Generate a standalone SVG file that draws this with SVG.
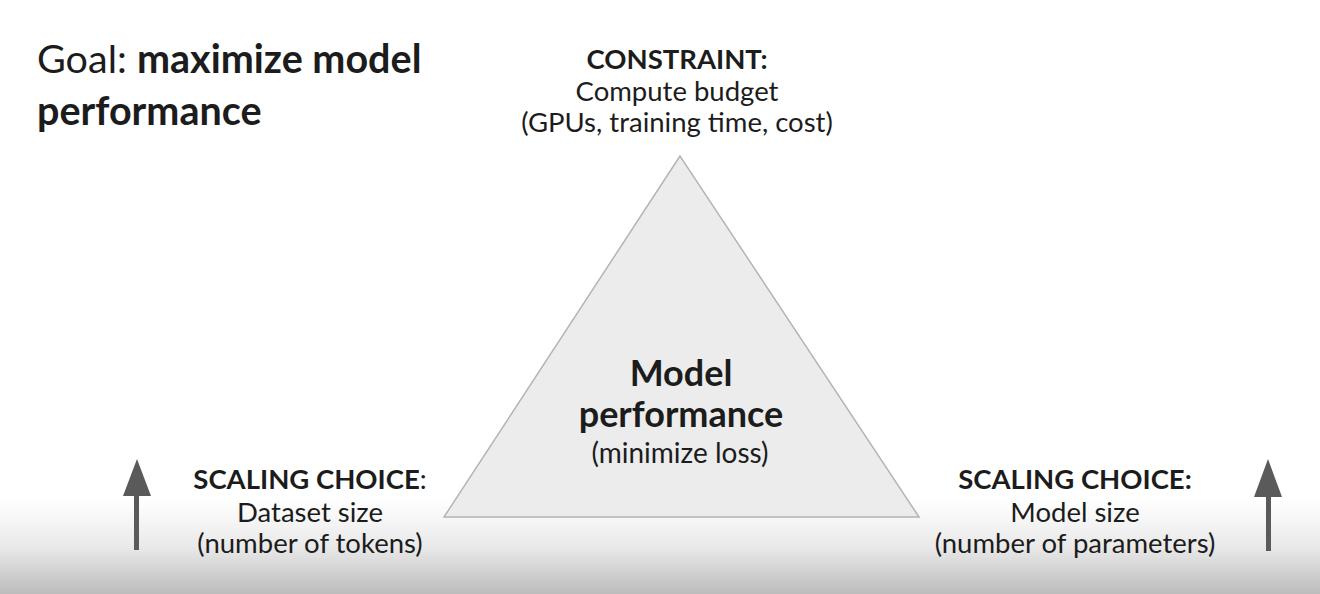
<svg xmlns="http://www.w3.org/2000/svg" width="1320" height="594" viewBox="0 0 1320 594">
<defs>
<linearGradient id="bg" x1="0" y1="0" x2="0" y2="1">
<stop offset="0" stop-color="#ffffff"/>
<stop offset="0.5" stop-color="#e9e9e9"/>
<stop offset="1" stop-color="#bcbcbc"/>
</linearGradient>
<style>
text{font-family:Lato,"Liberation Sans",sans-serif;fill:#1c1c1c;text-anchor:middle}
.b{font-weight:bold}
.n{font-weight:normal}
.lbl{font-size:27.5px}
.arrow{fill:#5a5a5a}
</style>
</defs>
<rect width="1320" height="594" fill="#ffffff"/>
<rect x="0" y="500" width="1320" height="94" fill="url(#bg)"/>
<g id="goal">
<text x="37" y="73" style="text-anchor:start;font-size:39.5px"><tspan class="n">Goal: </tspan><tspan class="b">maximize model</tspan></text>
<text x="37" y="125" class="b" style="text-anchor:start;font-size:39.5px">performance</text>
</g>
<g id="triangle">
<polygon points="680,156 444,517 919,517" fill="#ececec" stroke="#b4b4b4" stroke-width="1.5"/>
<text x="681" y="386" class="b" style="font-size:36px">Model</text>
<text x="681" y="427" class="b" style="font-size:36px">performance</text>
<text x="680" y="463" style="font-size:28px">(minimize loss)</text>
</g>
<g id="constraint">
<text x="677" y="69" class="b lbl">CONSTRAINT:</text>
<text x="677" y="101" class="lbl">Compute budget</text>
<text x="677" y="132" class="lbl">(GPUs, training time, cost)</text>
</g>
<g id="dataset">
<text x="310" y="489" class="lbl"><tspan class="b">SCALING CHOICE</tspan>:</text>
<text x="310" y="522" class="lbl">Dataset size</text>
<text x="310" y="553" class="lbl">(number of tokens)</text>
</g>
<g id="modelsize">
<text x="1075" y="489" class="b lbl">SCALING CHOICE:</text>
<text x="1075" y="522" class="lbl">Model size</text>
<text x="1075" y="553" class="lbl">(number of parameters)</text>
</g>
<g id="connectors">
<polygon class="arrow" points="137,459 151,496 139,496 139,550 134,550 134,496 123,496"/>
<polygon class="arrow" points="1268,459 1282,497 1271,497 1271,551 1266,551 1266,497 1254,497"/>
</g>
</svg>
